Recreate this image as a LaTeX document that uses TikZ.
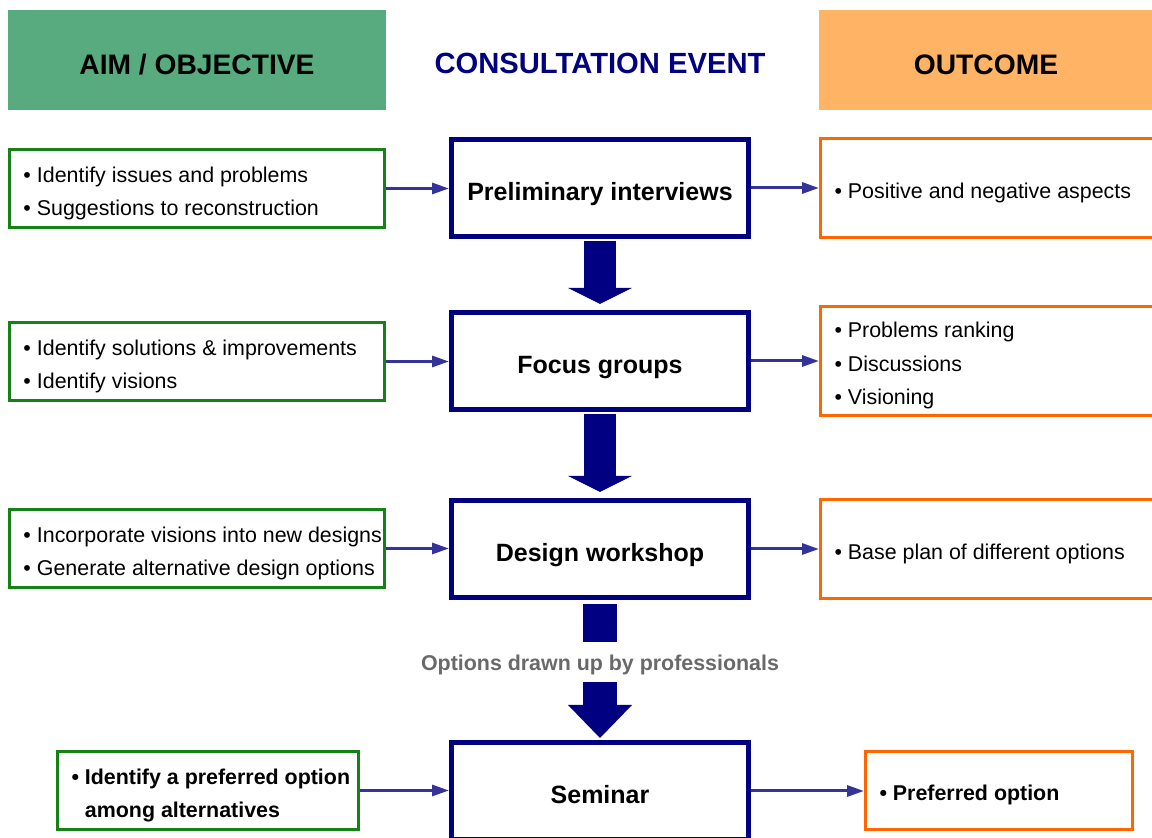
\documentclass[tikz,border=0pt]{standalone}
\usepackage{fontspec}
\setmainfont{Liberation Sans}
\usetikzlibrary{arrows.meta,calc}
\definecolor{eventblue}{RGB}{0,0,128}
\definecolor{linkblue}{RGB}{51,51,153}
\definecolor{aimgreen}{RGB}{20,130,20}
\definecolor{outorange}{RGB}{255,102,0}
\definecolor{aimtex}{RGB}{46,150,95}
\definecolor{outtex}{RGB}{255,150,40}
\definecolor{notegray}{RGB}{105,105,105}
\newcommand{\itembul}{\hspace*{7pt}\textbullet\ }
\tikzset{
    aim-box/.style = {draw=aimgreen, line width=1.5pt, fill=white, rectangle, minimum width=187.5pt, minimum height=39pt, text width=187.5pt, inner xsep=0pt, align=flush left, font=\fontsize{10.7}{16.5}\selectfont, execute at begin node=\rule{0pt}{12.5pt}},
    out-box/.style = {draw=outorange, line width=1.5pt, fill=white, rectangle, minimum width=168.5pt, minimum height=49.5pt, text width=168.5pt, inner xsep=0pt, align=flush left, font=\fontsize{10.7}{16.8}\selectfont, execute at begin node=\rule{0pt}{12.5pt}},
    event-box/.style = {draw=eventblue, line width=2.4pt, fill=white, rectangle, minimum width=148.6pt, minimum height=48.6pt, text height=15pt, text depth=2.6pt, font=\bfseries\fontsize{12.5}{15}\selectfont},
    head-box/.style = {rectangle, minimum width=189pt, minimum height=50pt, text height=14.1pt, text depth=0pt, font=\bfseries\fontsize{14.1}{17}\selectfont},
    flow-arrow/.style = {linkblue, line width=1.5pt, -{Triangle[length=8.5pt, width=5.5pt]}},
}

\begin{document}
\begin{tikzpicture}[x=0.5pt, y=-0.5pt]
\useasboundingbox (0,0) rectangle (1152,838);
% headers
\node[head-box, fill=aimtex!80] (aim-head) at (197,60) {AIM / OBJECTIVE};
\node[font=\bfseries\fontsize{14.6}{17}\selectfont, text=eventblue] (event-head) at (600,63) {CONSULTATION EVENT};
\node[head-box, fill=outtex!72, minimum width=167pt] (out-head) at (986,60) {OUTCOME};

% consultation events
\node[event-box] (ev-interviews) at (600,188) {Preliminary interviews};
\node[event-box] (ev-focus) at (600,361) {Focus groups};
\node[event-box] (ev-workshop) at (600,549) {Design workshop};
\node[event-box] (ev-seminar) at (600,791) {Seminar};

% aims
\node[aim-box] (aim-interviews) at (197,188.5) {\itembul Identify issues and problems\\\itembul Suggestions to reconstruction};
\node[aim-box] (aim-focus) at (197,361.5) {\itembul Identify solutions \& improvements\\\itembul Identify visions};
\node[aim-box] (aim-workshop) at (197,548.5) {\itembul Incorporate visions into new designs\\\itembul Generate alternative design options};
\node[aim-box, minimum width=150.5pt, text width=150.5pt, font=\bfseries\fontsize{10.7}{16.5}\selectfont] (aim-seminar) at (208,790.5) {\itembul Identify a preferred option\\\hspace*{7pt}\hphantom{\textbullet\ }among alternatives};

% outcomes
\node[out-box] (out-interviews) at (989,188) {\itembul Positive and negative aspects};
\node[out-box] (out-focus) at (989,361) {\itembul Problems ranking\\\itembul Discussions\\\itembul Visioning};
\node[out-box] (out-workshop) at (989,549) {\itembul Base plan of different options};
\node[out-box, minimum width=133.5pt, text width=133.5pt, minimum height=39pt, font=\bfseries\fontsize{10.7}{16.5}\selectfont] (out-seminar) at (999,790.5) {\itembul Preferred option};

% links
\foreach \n in {interviews, focus, workshop, seminar} {
    \draw[flow-arrow] (aim-\n.east) -- (aim-\n.east -| ev-\n.west);
    \draw[flow-arrow] (ev-\n.east) -- (ev-\n.east -| out-\n.west);
}

% big arrows
\foreach \a/\b in {ev-interviews/ev-focus, ev-focus/ev-workshop} {
    \fill[eventblue] ($(\a.south)+(-16,2)$) rectangle ($(\b.north)+(16,-22)$);
    \fill[eventblue] ($(\b.north)+(-32,-22)$) -- ($(\b.north)+(32,-22)$) -- ($(\b.north)+(0,-6)$) -- cycle;
}
\node[font=\bfseries\fontsize{10.7}{13}\selectfont, text=notegray] (note) at (600,665) {Options drawn up by professionals};
\fill[eventblue] ($(ev-workshop.south)+(-17,4)$) rectangle ($(note.center)+(17,-23)$);
\fill[eventblue] ($(note.center)+(-17,17)$) rectangle ($(ev-seminar.north)+(17,-35)$);
\fill[eventblue] ($(ev-seminar.north)+(-32,-35)$) -- ($(ev-seminar.north)+(32,-35)$) -- ($(ev-seminar.north)+(0,-2)$) -- cycle;
\end{tikzpicture}
\end{document}
